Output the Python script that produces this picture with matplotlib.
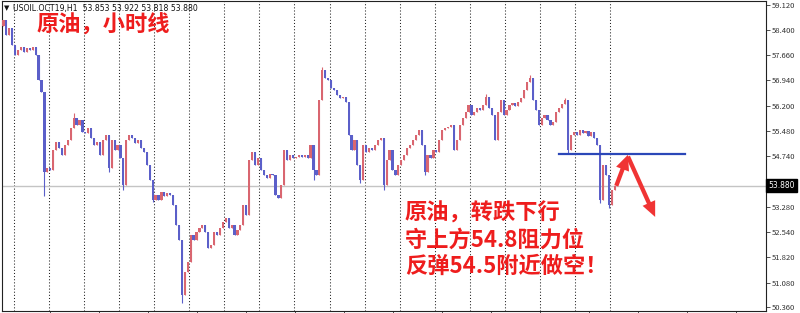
import numpy as np
import matplotlib
matplotlib.use("Agg")
import matplotlib.pyplot as plt
import matplotlib.transforms as mtransforms

plt.rcParams['font.family'] = ['Noto Sans CJK SC', 'DejaVu Sans']

# ---- data (USOIL, hourly chart, one bar ~ 2 px) ----
first_open = 58.50
closes = [
    58.69, 58.25, 58.45, 57.96, 57.67, 57.82, 57.90, 57.76, 57.87, 57.82,
    57.90, 57.67, 56.95, 56.60, 54.28, 54.40, 54.34, 54.92, 55.15, 54.98,
    54.77, 55.06, 55.21, 55.56, 55.85, 55.64, 55.79, 55.44, 55.41, 55.56,
    55.27, 55.06, 55.15, 54.77, 55.21, 55.35, 54.40, 55.21, 54.92, 55.06,
    54.69, 53.91, 55.21, 55.35, 55.27, 55.12, 55.21, 54.98, 54.86, 54.48,
    54.05, 53.47, 53.62, 53.47, 53.70, 53.59, 53.67, 53.62, 53.33, 52.75,
    52.31, 50.72, 51.38, 51.67, 52.46, 52.31, 52.54, 52.66, 52.75, 52.54,
    52.08, 52.17, 52.54, 52.46, 52.66, 52.83, 52.95, 52.66, 52.75, 52.46,
    52.60, 52.75, 53.33, 53.04, 54.63, 54.86, 54.48, 54.69, 54.34, 54.20,
    54.11, 54.22, 54.20, 53.62, 53.53, 53.91, 54.92, 54.63, 54.77, 54.69,
    54.72, 54.77, 54.72, 54.77, 54.69, 55.06, 54.34, 54.20, 56.37, 57.24,
    57.00, 56.95, 56.72, 56.66, 56.51, 56.43, 56.46, 56.31, 55.35, 54.92,
    55.21, 54.48, 54.05, 55.06, 54.86, 54.98, 54.92, 55.06, 55.21, 55.27,
    53.91, 54.63, 54.92, 54.34, 54.20, 54.48, 54.63, 54.77, 54.98, 55.06,
    55.21, 55.35, 55.50, 55.06, 54.28, 54.77, 54.69, 54.92, 54.86, 55.21,
    55.50, 55.56, 55.59, 55.64, 54.92, 55.21, 55.64, 55.85, 56.02, 56.22,
    55.93, 56.02, 56.14, 56.08, 56.22, 56.46, 56.14, 55.93, 55.21, 56.02,
    56.37, 55.93, 56.08, 56.22, 56.28, 56.19, 56.31, 56.43, 56.66, 56.89,
    57.00, 56.37, 56.08, 55.64, 55.85, 55.93, 55.79, 55.64, 55.73, 56.02,
    56.14, 56.25, 56.37, 54.92, 55.35, 55.44, 55.35, 55.50, 55.41, 55.47,
    55.33, 55.44, 55.27, 55.06, 53.47, 54.48, 54.20, 53.33, 53.76, 53.88,
]
# long lower / upper wicks that stick out of the bodies
wick_low = {14: 53.59, 36: 54.28, 41: 53.76, 51: 53.41, 61: 50.49, 106: 54.05,
            122: 53.96, 130: 53.76, 144: 54.20, 193: 54.83, 204: 53.39, 207: 53.24}
wick_high = {24: 55.99, 109: 57.32, 165: 56.55, 180: 57.09, 192: 56.43}

price_ticks = [59.12, 58.40, 57.66, 56.94, 56.20, 55.48, 54.74, 54.02,
               53.28, 52.54, 51.82, 51.08, 50.36]
last_price = 53.880
header = "USOIL.OCT19,H1  53.853 53.922 53.818 53.880"

bars_per_day = 12
first_day_bar = 4

resistance = 54.8
resist_bars = (190, 233)
bounce_bar, bounce_price = 213.5, 54.78
short_bar, short_target = 222.8, 52.98

title_txt = "原油，小时线"
note_lines = ["原油，转跌下行", "守上方54.8阻力位", "反弹54.5附近做空！"]

# ---- figure ----
W, H = 800, 313
fig = plt.figure(figsize=(W / 100, H / 100), dpi=100)
ax = fig.add_axes([2 / W, 2 / H, 764 / W, 310 / H])
bar_px = 2.925
ax.set_xlim(-0.5, -0.5 + 764 / bar_px)
ax.set_ylim(50.255, 59.236)

n = len(closes)
x = np.arange(n)
closes = np.array(closes)
opens = np.concatenate([[first_open], closes[:-1]])
up = closes >= opens
red, blue = '#d96670', '#5b5fc9'
colors = np.where(up, red, blue)

lo = np.minimum(opens, closes)
hi = np.maximum(opens, closes)
for i, v in wick_low.items():
    lo[i] = min(lo[i], v)
for i, v in wick_high.items():
    hi[i] = max(hi[i], v)

ax.vlines(x, lo, hi, colors=colors, linewidth=0.8, zorder=3)
ax.bar(x, np.maximum(np.abs(closes - opens), 0.02), bottom=np.minimum(opens, closes),
       width=0.75, color=colors, linewidth=0, zorder=3)

# day separators
for d in np.arange(first_day_bar, n, bars_per_day):
    ax.axvline(d - 0.5, color='#222222', lw=0.75, ls=(0, (1, 2)), zorder=1)

# current price line
ax.axhline(last_price, color='#c4c4c4', lw=1.0, zorder=2)

# resistance line and arrows
ax.plot(resist_bars, [resistance, resistance], color='#2b47b8', lw=1.6, zorder=4)
arrow_style = 'simple,tail_width=0.28,head_width=0.9,head_length=1.0'
ax.annotate('', xy=(bounce_bar, bounce_price), xytext=(x[-1] + 0.5, closes[-1]),
            arrowprops=dict(arrowstyle=arrow_style, color='#f03434', lw=0,
                            shrinkA=0, shrinkB=0, mutation_scale=11), zorder=5)
ax.annotate('', xy=(short_bar, short_target), xytext=(bounce_bar, bounce_price - 0.05),
            arrowprops=dict(arrowstyle=arrow_style, color='#f03434', lw=0,
                            shrinkA=0, shrinkB=0, mutation_scale=11), zorder=5)

# axes styling (MT4 look)
for s in ax.spines.values():
    s.set_color('#222222')
    s.set_linewidth(0.8)
ax.yaxis.tick_right()
ax.set_yticks(price_ticks)
ax.set_yticklabels([f"{p:.3f}" for p in price_ticks])
ax.tick_params(axis='y', labelsize=5.5, length=3, width=0.6, pad=1.5, colors='#333333')
ax.set_xticks(np.arange(15.9, 260, 16.75))
ax.set_xticklabels([])
ax.tick_params(axis='x', length=3, width=0.6, colors='#333333')

trans = mtransforms.blended_transform_factory(ax.transAxes, ax.transData)
ax.text(1.003, last_price, f"{last_price:.3f}", transform=trans, fontsize=5.5,
        color='white', va='center', ha='left', family='DejaVu Sans',
        bbox=dict(boxstyle='square,pad=0.25', fc='black', ec='black'), zorder=6,
        clip_on=False)

# header and notes
fig.text(4 / W, 1 - 8 / H, '▼', fontsize=5, color='#111111', va='center', family='DejaVu Sans')
fig.text(13 / W, 1 - 8 / H, header, fontsize=5.6, color='#111111', va='center',
         family='DejaVu Sans')
fig.text(37 / W, 1 - 25 / H, title_txt, fontsize=16, fontweight='bold',
         color='#ee1d1d', va='center')
for k, line in enumerate(note_lines):
    fig.text(405 / W, 1 - (213 + 26.7 * k) / H, line, fontsize=16, fontweight='bold',
             color='#ee1d1d', va='center')

fig.savefig('out.png', dpi=100, facecolor='white')
